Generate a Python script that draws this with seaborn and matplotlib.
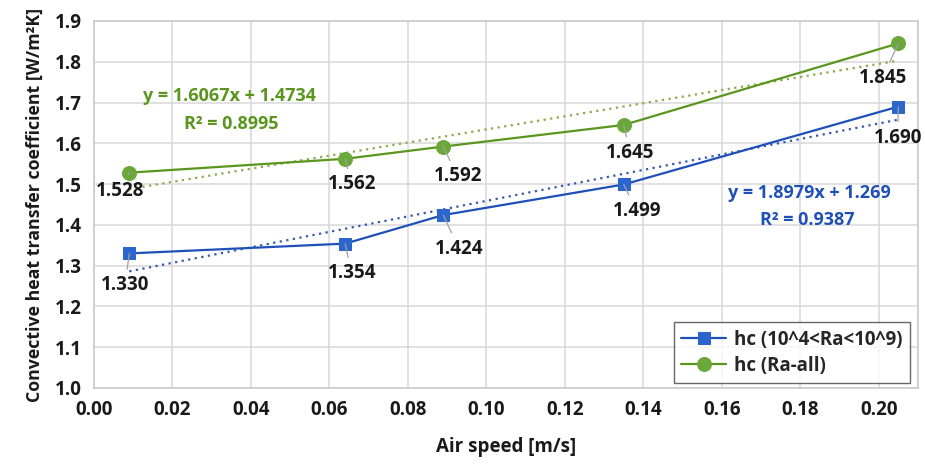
import numpy as np
import pandas as pd
import matplotlib
matplotlib.use("Agg")
import matplotlib.pyplot as plt
import seaborn as sns

# ── data ─────────────────────────────────────────────────────────────────────
air_speed = [0.009, 0.064, 0.089, 0.135, 0.205]
hc_ra_range = [1.330, 1.354, 1.424, 1.499, 1.690]
hc_ra_all = [1.528, 1.562, 1.592, 1.645, 1.845]

series_names = ["hc (10^4<Ra<10^9)", "hc (Ra-all)"]

# linear trendlines (slope, intercept, r2) as shown on the chart
trend_range = [1.8979, 1.269, 0.9387]
trend_all = [1.6067, 1.4734, 0.8995]

# data label positions (x, y) for each point
lbl_range = [(0.0079, 1.252), (0.0657, 1.281), (0.093, 1.342), (0.1383, 1.435), (0.2048, 1.614)]
lbl_all = [(0.0066, 1.484), (0.0657, 1.499), (0.0927, 1.519), (0.1366, 1.577), (0.201, 1.761)]

x_ticks = [0.00, 0.02, 0.04, 0.06, 0.08, 0.10, 0.12, 0.14, 0.16, 0.18, 0.20]
y_ticks = [1.0, 1.1, 1.2, 1.3, 1.4, 1.5, 1.6, 1.7, 1.8, 1.9]

BLUE = "#1F4FB8"
BLUE_MK = "#2A66CC"
GREEN = "#5A961E"
GREEN_MK = "#6BA83A"
TXT = "#1A1A1A"

sns.set_style("white")
plt.rcParams["font.family"] = ["Open Sans", "DejaVu Sans"]

fig = plt.figure(figsize=(9.25, 4.66), dpi=100)
ax = fig.add_axes([0.1016, 0.1674, 0.8908, 0.7876])

df = pd.DataFrame({"x": air_speed * 2,
                   "y": hc_ra_range + hc_ra_all,
                   "series": [series_names[0]] * 5 + [series_names[1]] * 5})

# grid
for xv in x_ticks + [0.21]:
    ax.axvline(xv, color="#D9D9D9", lw=1.1, zorder=0)
for yv in y_ticks:
    ax.axhline(yv, color="#D9D9D9", lw=1.1, zorder=0)

# trendlines
xt = np.array([air_speed[0], air_speed[-1]])
ax.plot(xt, trend_range[0] * xt + trend_range[1], ls=(0, (1, 2)), color="#3558AA", lw=1.6, zorder=2)
ax.plot(xt, trend_all[0] * xt + trend_all[1], ls=(0, (1, 2)), color="#8AAA4A", lw=1.6, zorder=2)

sns.lineplot(data=df[df.series == series_names[0]], x="x", y="y", ax=ax, color=BLUE, lw=1.6,
             marker="s", markersize=9, markerfacecolor=BLUE_MK, markeredgecolor=BLUE_MK,
             label=series_names[0], zorder=3)
sns.lineplot(data=df[df.series == series_names[1]], x="x", y="y", ax=ax, color=GREEN, lw=1.6,
             marker="o", markersize=10, markerfacecolor=GREEN_MK, markeredgecolor=GREEN_MK,
             label=series_names[1], zorder=3)

# data labels with leader lines
for xs, ys, pos in [(air_speed, hc_ra_range, lbl_range), (air_speed, hc_ra_all, lbl_all)]:
    for xv, yv, (lx, ly) in zip(xs, ys, pos):
        ax.annotate(f"{yv:.3f}", xy=(xv, yv), xytext=(lx, ly), ha="center", va="center",
                    fontsize=13.5, fontweight="bold", color=TXT,
                    arrowprops=dict(arrowstyle="-", color="#A0A0A0", lw=0.9,
                                    shrinkA=2, shrinkB=0), zorder=4)

# trend equations
ax.text(0.0346, 1.717, f"y = {trend_all[0]:.4f}x + {trend_all[1]:.4f}", ha="center", va="center",
        fontsize=13, fontweight="bold", color=GREEN)
ax.text(0.0349, 1.648, f"R² = {trend_all[2]:.4f}", ha="center", va="center",
        fontsize=13, fontweight="bold", color=GREEN)
ax.text(0.1824, 1.477, f"y = {trend_range[0]:.4f}x + {trend_range[1]:.3f}", ha="center", va="center",
        fontsize=13, fontweight="bold", color=BLUE)
ax.text(0.1819, 1.411, f"R² = {trend_range[2]:.4f}", ha="center", va="center",
        fontsize=13, fontweight="bold", color=BLUE)

ax.set_xlim(0, 0.21)
ax.set_ylim(1.0, 1.9)
ax.set_xticks(x_ticks)
ax.set_xticklabels([f"{v:.2f}" for v in x_ticks])
ax.set_yticks(y_ticks)
ax.set_yticklabels([f"{v:.1f}" for v in y_ticks])
ax.tick_params(axis="both", length=0, labelsize=13.5, colors=TXT, pad=9)
for lab in ax.get_xticklabels() + ax.get_yticklabels():
    lab.set_fontweight("bold")
for s in ax.spines.values():
    s.set_color("#C8C8C8")
    s.set_linewidth(1.1)

ax.set_xlabel("Air speed [m/s]", fontsize=13.5, fontweight="bold", color=TXT, labelpad=12)
ax.set_ylabel("Convective heat transfer coefficient [W/m²K]", fontsize=12.8, fontweight="bold",
              color=TXT, labelpad=8)

leg = ax.legend(loc="lower right", bbox_to_anchor=(0.990, 0.0136), borderaxespad=0,
                fancybox=False, frameon=True, prop={"size": 13.5, "weight": "bold"},
                handlelength=2.4, handletextpad=0.4, borderpad=0.4, labelspacing=0.3)
leg.get_frame().set_edgecolor("#404040")
leg.get_frame().set_linewidth(1.0)

fig.savefig("out.png", dpi=100)
